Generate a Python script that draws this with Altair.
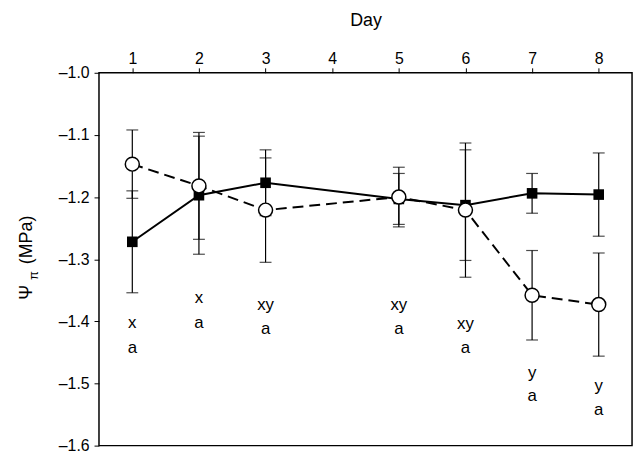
import altair as alt
import pandas as pd

days = [1, 2, 3, 5, 6, 7, 8]
filled_mean = [-1.272, -1.197, -1.177, -1.203, -1.213, -1.194, -1.196]
filled_err = [0.082, 0.095, 0.053, 0.041, 0.089, 0.032, 0.067]
open_mean = [-1.147, -1.182, -1.221, -1.200, -1.221, -1.358, -1.373]
open_err = [0.055, 0.086, 0.084, 0.048, 0.108, 0.072, 0.083]

top_letters = ["x", "x", "xy", "xy", "xy", "y", "y"]
top_letter_y = [-1.403, -1.362, -1.373, -1.373, -1.404, -1.483, -1.504]
bottom_letters = ["a", "a", "a", "a", "a", "a", "a"]
bottom_letter_y = [-1.443, -1.402, -1.413, -1.413, -1.443, -1.521, -1.542]

x_ticks = [1, 2, 3, 4, 5, 6, 7, 8]
y_ticks = [-1.0, -1.1, -1.2, -1.3, -1.4, -1.5, -1.6]

rows = []
for d, m, e in zip(days, filled_mean, filled_err):
    rows.append({"day": d, "mean": m, "lo": m - e, "hi": m + e, "series": "filled"})
for d, m, e in zip(days, open_mean, open_err):
    rows.append({"day": d, "mean": m, "lo": m - e, "hi": m + e, "series": "open"})
df = pd.DataFrame(rows)

labels = pd.DataFrame(
    [{"day": d, "y": y, "t": t} for d, y, t in zip(days, top_letter_y, top_letters)]
    + [{"day": d, "y": y, "t": t} for d, y, t in zip(days, bottom_letter_y, bottom_letters)]
)

FONT = "Liberation Sans"
W, H = 539, 377

xs = alt.Scale(domain=[0.5, 8.5], nice=False, zero=False)
ys = alt.Scale(domain=[-1.6, -1.0], nice=False, zero=False)

x_enc = alt.X(
    "day:Q", scale=xs,
    axis=alt.Axis(orient="top", title="Day", values=x_ticks, format="d",
                  grid=False, domain=False, tickSize=5, tickColor="black",
                  labelPadding=1, titleY=-48, titleBaseline="alphabetic",
                  titleFontSize=18),
)
y_enc = alt.Y(
    "mean:Q", scale=ys,
    axis=alt.Axis(title="", values=y_ticks,
                  labelExpr="'\u2013' + format(abs(datum.value), '.1f')",
                  grid=False, domain=False, tickSize=5, tickColor="black",
                  labelPadding=5),
)

base = alt.Chart(df)

err_rule = base.mark_rule(color="black", strokeWidth=1.2).encode(
    x=alt.X("day:Q", scale=xs), y=alt.Y("lo:Q", scale=ys), y2="hi:Q"
)
cap_lo = base.mark_tick(color="black", size=12, thickness=1.2, orient="horizontal").encode(
    x=alt.X("day:Q", scale=xs), y=alt.Y("lo:Q", scale=ys)
)
cap_hi = base.mark_tick(color="black", size=12, thickness=1.2, orient="horizontal").encode(
    x=alt.X("day:Q", scale=xs), y=alt.Y("hi:Q", scale=ys)
)

line_filled = base.transform_filter(alt.datum.series == "filled").mark_line(
    color="black", strokeWidth=2
).encode(x=x_enc, y=y_enc)
line_open = base.transform_filter(alt.datum.series == "open").mark_line(
    color="black", strokeWidth=2, strokeDash=[11, 6]
).encode(x=alt.X("day:Q", scale=xs), y=alt.Y("mean:Q", scale=ys))

pts_filled = base.transform_filter(alt.datum.series == "filled").mark_point(
    shape="square", filled=True, color="black", size=115, opacity=1
).encode(x=alt.X("day:Q", scale=xs), y=alt.Y("mean:Q", scale=ys))
pts_open = base.transform_filter(alt.datum.series == "open").mark_point(
    shape="circle", filled=True, fill="white", stroke="black", strokeWidth=1.5,
    size=200, opacity=1
).encode(x=alt.X("day:Q", scale=xs), y=alt.Y("mean:Q", scale=ys))

text = alt.Chart(labels).mark_text(
    font=FONT, fontSize=17, color="black", baseline="middle", align="center"
).encode(x=alt.X("day:Q", scale=xs), y=alt.Y("y:Q", scale=ys), text="t:N")

# y-axis title with subscript pi: "Ψ", "π" (subscript), "(MPa)"
title_psi = alt.Chart(pd.DataFrame({"t": ["Ψ"]})).mark_text(
    font=FONT, fontSize=18, color="black", angle=270, align="center", baseline="middle"
).encode(text="t:N", x=alt.value(-72.5), y=alt.value(222))
title_pi = alt.Chart(pd.DataFrame({"t": ["π"]})).mark_text(
    font=FONT, fontSize=13, color="black", angle=270, align="center", baseline="middle"
).encode(text="t:N", x=alt.value(-66), y=alt.value(205))
title_unit = alt.Chart(pd.DataFrame({"t": ["(MPa)"]})).mark_text(
    font=FONT, fontSize=18, color="black", angle=270, align="center", baseline="middle"
).encode(text="t:N", x=alt.value(-72.5), y=alt.value(169))

chart = alt.layer(
    line_filled, err_rule, cap_lo, cap_hi, line_open, pts_filled, pts_open, text,
    title_psi, title_pi, title_unit
).properties(
    width=W, height=H,
    autosize=alt.AutoSizeParams(type="none"),
    padding={"left": 92, "top": 63, "right": 4, "bottom": 10},
).configure_view(
    stroke="black", strokeWidth=1.5
).configure_axis(
    labelFont=FONT, titleFont=FONT, labelFontSize=16, titleFontSize=18,
    labelColor="black", titleColor="black", titleFontWeight="normal",
)

chart.save("out.html", embed_options={"renderer": "svg", "actions": False})
